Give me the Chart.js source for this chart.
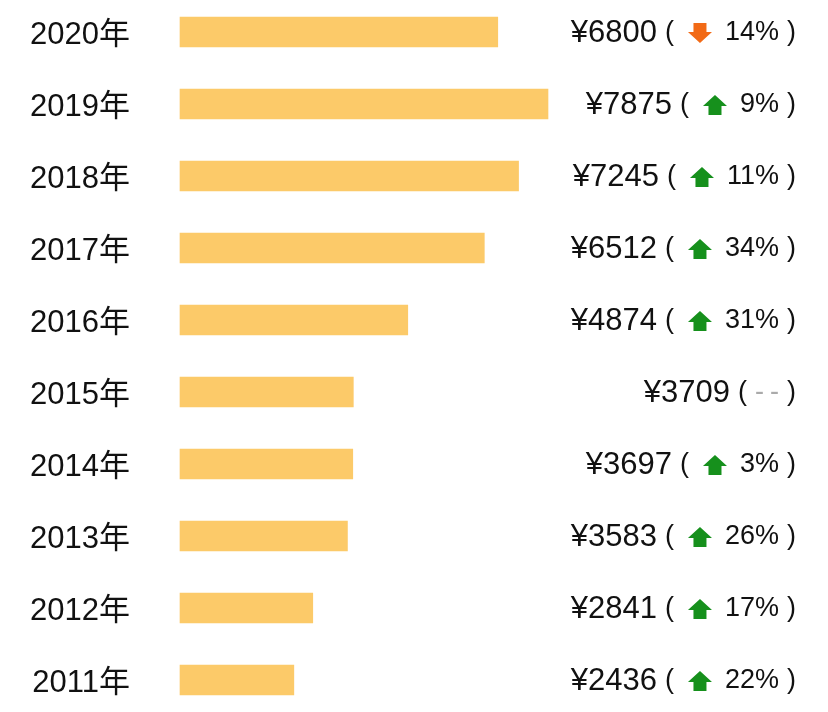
<!DOCTYPE html>
<html>
<head>
<meta charset="utf-8">
<script src="https://cdn.jsdelivr.net/npm/chart.js@4/dist/chart.umd.min.js"></script>
<style>
    html, body { margin: 0; padding: 0; background: #ffffff; }
    #wrap { width: 828px; height: 712px; }
</style>
</head>
<body>
<div id="wrap"><canvas id="priceChart" width="828" height="712"></canvas></div>
<script>
// dados do gráfico
const years = ['2020年', '2019年', '2018年', '2017年', '2016年', '2015年', '2014年', '2013年', '2012年', '2011年'];
const prices = [6800, 7875, 7245, 6512, 4874, 3709, 3697, 3583, 2841, 2436];
// variação anual em %, null = sem dado
const changes = [-14, 9, 11, 34, 31, null, 3, 26, 17, 22];

const FONT = "'Liberation Sans', Arial, 'Noto Sans CJK SC', sans-serif";

// seta em bloco (para cima ou para baixo)
function drawArrow(ctx, cx, cy, up, color) {
    const hw = 12, hh = 11, sw = 6.5, sh = 9;
    const d = up ? 1 : -1;
    const top = cy - 10 * d;
    ctx.save();
    ctx.fillStyle = color;
    ctx.beginPath();
    ctx.moveTo(cx, top);
    ctx.lineTo(cx + hw, top + hh * d);
    ctx.lineTo(cx + sw, top + hh * d);
    ctx.lineTo(cx + sw, top + (hh + sh) * d);
    ctx.lineTo(cx - sw, top + (hh + sh) * d);
    ctx.lineTo(cx - sw, top + hh * d);
    ctx.lineTo(cx - hw, top + hh * d);
    ctx.closePath();
    ctx.fill();
    ctx.restore();
}

// plugin para os textos da direita: ¥valor ( seta  x% )
const rightLabels = {
    id: 'rightLabels',
    afterDatasetsDraw(chart) {
        const ctx = chart.ctx;
        const meta = chart.getDatasetMeta(0);
        ctx.save();
        ctx.textBaseline = 'middle';
        ctx.textAlign = 'right';
        meta.data.forEach((bar, i) => {
            const y = bar.y + 1;
            let x = 796;
            ctx.font = '27px ' + FONT;
            ctx.fillStyle = '#111';
            ctx.fillText(')', x, y);
            x -= ctx.measureText(')').width + 8;

            const c = changes[i];
            if (c === null) {
                ctx.fillStyle = '#aaa';
                ctx.fillText('-', x, y);
                x -= ctx.measureText('-').width + 6;
                ctx.fillText('-', x, y);
                x -= ctx.measureText('-').width + 8;
            } else {
                const txt = Math.abs(c) + '%';
                ctx.fillText(txt, x, y);
                x -= ctx.measureText(txt).width + 13;
                drawArrow(ctx, x - 12, y, c > 0, c > 0 ? '#16901c' : '#f26a16');
                x -= 24 + 14;
            }
            ctx.fillStyle = '#111';
            ctx.font = '27px ' + FONT;
            ctx.fillText('(', x, y);
            x -= ctx.measureText('(').width + 8;
            ctx.font = '31px ' + FONT;
            ctx.fillText('¥' + prices[i], x, y);
        });
        ctx.restore();
    }
};

new Chart(document.getElementById('priceChart').getContext('2d'), {
    type: 'bar',
    data: {
        labels: years,
        datasets: [{
            data: prices,
            backgroundColor: '#fcca69',
            borderWidth: 0,
            barThickness: 30,
            clip: false
        }]
    },
    plugins: [rightLabels],
    options: {
        indexAxis: 'y',
        responsive: false,
        animation: false,
        devicePixelRatio: 1,
        layout: {
            padding: { left: 0, right: 280, top: 32, bottom: 32 }
        },
        plugins: {
            legend: { display: false },
            tooltip: { enabled: false }
        },
        scales: {
            x: {
                display: false,
                min: 0,
                max: 7875
            },
            y: {
                offset: false,
                afterFit: function(scale) {
                    scale.width = 180;
                    scale.paddingTop = 0;
                    scale.paddingBottom = 0;
                },
                grid: { display: false, drawTicks: false },
                border: { display: false },
                ticks: {
                    autoSkip: false,
                    padding: 50,
                    labelOffset: 3,
                    color: '#111',
                    font: { size: 31, family: FONT }
                }
            }
        }
    }
});
</script>
</body>
</html>
